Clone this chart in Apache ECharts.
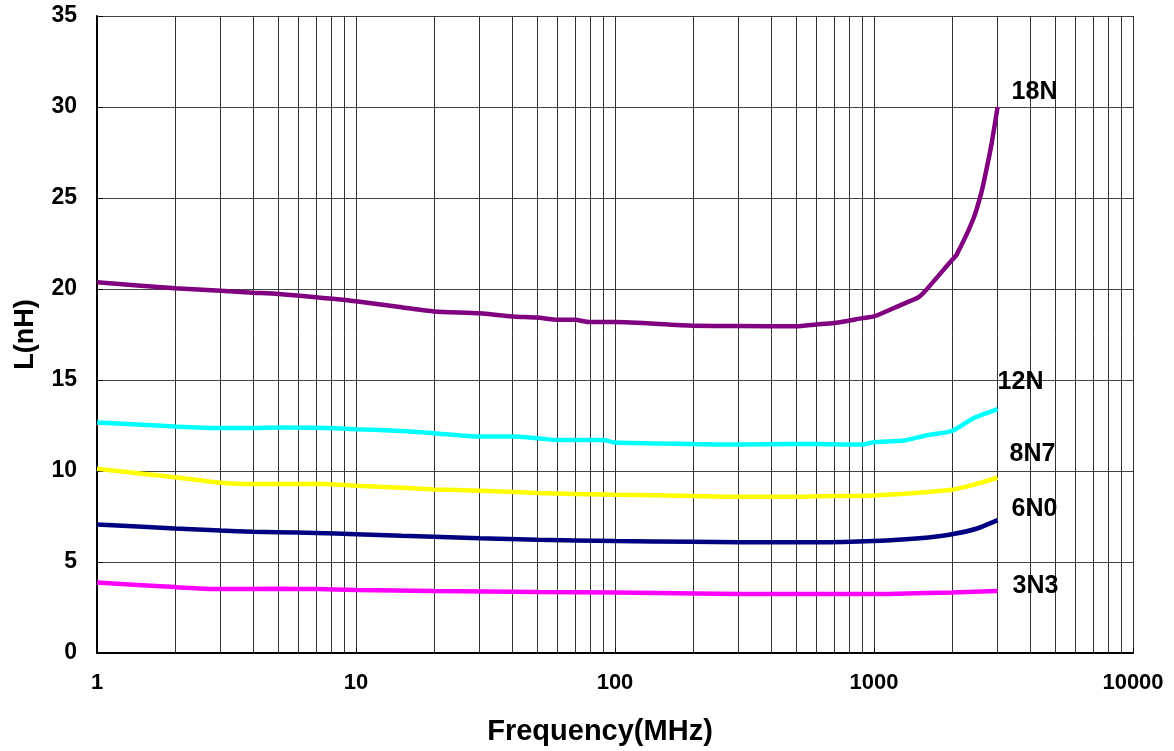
<!DOCTYPE html>
<html>
<head>
<meta charset="utf-8">
<script src="https://cdn.jsdelivr.net/npm/echarts@6/dist/echarts.min.js"></script>
<style>html,body{margin:0;padding:0;background:#fff;}#c{width:1174px;height:751px;}</style>
</head>
<body>
<div id="c"></div>
<script>
// ---- data ----
const freq18N = [1,2,3,4,5,7,10,15,20,30,40,50,60,70,80,100,200,300,500,600,700,800,900,1000,1260,1480,1570,2000,2080,2420,2600,2720,2850,3000];
const val18N  = [20.37,20.04,19.9,19.8,19.73,19.55,19.33,19.0,18.77,18.67,18.49,18.43,18.31,18.31,18.18,18.18,17.98,17.97,17.95,18.05,18.13,18.26,18.4,18.49,19.1,19.53,19.86,21.59,21.86,23.86,25.32,26.59,28.05,30.0];

const freq12N = [1,2,3,4,5,7,10,15,20,30,40,50,60,70,80,90,100,200,300,500,600,800,900,1000,1300,1570,2000,2420,3000];
const val12N  = [12.67,12.45,12.36,12.36,12.39,12.38,12.3,12.2,12.08,11.89,11.89,11.8,11.7,11.7,11.7,11.7,11.56,11.48,11.45,11.48,11.48,11.45,11.45,11.58,11.67,11.94,12.2,12.9,13.4];

const freq8N7 = [1,2,3,4,5,7,10,15,20,30,50,100,200,300,500,600,1000,2000,2500,3000];
const val8N7  = [10.12,9.66,9.35,9.28,9.28,9.3,9.19,9.08,8.99,8.92,8.79,8.7,8.63,8.58,8.58,8.61,8.66,8.97,9.3,9.63];

const freq6N0 = [1,2,3,4,5,7,10,15,20,30,50,100,200,300,500,600,1000,1500,2000,2500,3000];
const val6N0  = [7.06,6.84,6.73,6.66,6.64,6.6,6.53,6.44,6.39,6.31,6.22,6.15,6.11,6.08,6.08,6.08,6.15,6.3,6.52,6.84,7.3];

const freq3N3 = [1,2,3,5,7,10,20,50,100,300,1000,2000,3000];
const val3N3  = [3.88,3.62,3.51,3.53,3.51,3.46,3.40,3.35,3.33,3.24,3.24,3.33,3.40];

const seriesNames = ['18N','12N','8N7','6N0','3N3'];
const yTicks = [0,5,10,15,20,25,30,35];
const xTicks = [1,10,100,1000,10000];

// ---- build ----
const FONT = 'Arial, "Liberation Sans", sans-serif';
const pairs = (xs, ys) => xs.map((x, i) => [x, ys[i]]);

// minor vertical grid positions (2..9 per decade)
const minorGrid = [];
for (let d = 1; d < 10000; d *= 10) for (let k = 2; k <= 9; k++) minorGrid.push(d * k);

function lineSeries(name, data, color, offset) {
  return {
    name, type: 'line', data, symbol: 'none', smooth: 0.2,
    lineStyle: { color, width: 4.5 }, itemStyle: { color },
    z: 5,
    endLabel: {
      show: true, formatter: name, color: '#000', fontFamily: FONT,
      fontWeight: 'bold', fontSize: 25, distance: 0, offset, align: 'left', verticalAlign: 'middle'
    }
  };
}

const option = {
  animation: false,
  backgroundColor: '#fff',
  grid: { left: 97, right: 41, top: 16, bottom: 94, containLabel: false },
  xAxis: {
    type: 'log', logBase: 10, min: 1, max: 10000,
    name: 'Frequency(MHz)', nameLocation: 'middle', nameGap: 64,
    nameTextStyle: { fontFamily: FONT, fontWeight: 'bold', fontSize: 29, color: '#000', padding: [0, 30, 0, 0] },
    axisLine: { show: true, onZero: false, lineStyle: { color: '#000', width: 2 } },
    axisTick: { show: true, inside: true, length: 5, lineStyle: { color: '#000' } },
    axisLabel: { fontFamily: FONT, fontWeight: 'bold', fontSize: 22, color: '#000', margin: 19,
      formatter: v => xTicks.includes(Math.round(v)) ? String(Math.round(v)) : '' },
    splitLine: { show: true, lineStyle: { color: '#333', width: 1 } }
  },
  yAxis: {
    type: 'value', min: 0, max: 35, interval: 5,
    name: 'L(nH)', nameLocation: 'middle', nameGap: 58,
    nameTextStyle: { fontFamily: FONT, fontWeight: 'bold', fontSize: 27, color: '#000' },
    axisLine: { show: true, lineStyle: { color: '#000', width: 2 } },
    axisTick: { show: true, inside: true, length: 6, lineStyle: { color: '#000' } },
    axisLabel: { fontFamily: FONT, fontWeight: 'bold', fontSize: 23, color: '#000', margin: 20,
      formatter: v => yTicks.includes(v) ? String(v) : '' },
    splitLine: { show: true, lineStyle: { color: '#444', width: 1 } }
  },
  series: [
    {
      name: 'grid', type: 'line', data: [], silent: true,
      markLine: {
        silent: true, symbol: 'none', animation: false,
        label: { show: false },
        lineStyle: { color: '#333', width: 1, type: 'solid' },
        data: minorGrid.map(v => ({ xAxis: v }))
      },
      z: 1
    },
    lineSeries(seriesNames[0], pairs(freq18N, val18N), '#800080', [14, -15]),
    lineSeries(seriesNames[1], pairs(freq12N, val12N), '#00FFFF', [0, -27]),
    lineSeries(seriesNames[2], pairs(freq8N7, val8N7), '#FFFF00', [12, -24]),
    lineSeries(seriesNames[3], pairs(freq6N0, val6N0), '#000080', [14, -11]),
    lineSeries(seriesNames[4], pairs(freq3N3, val3N3), '#FF00FF', [15, -5])
  ]
};

const chart = echarts.init(document.getElementById('c'), null, { renderer: 'canvas' });
chart.setOption(option);
</script>
</body>
</html>
